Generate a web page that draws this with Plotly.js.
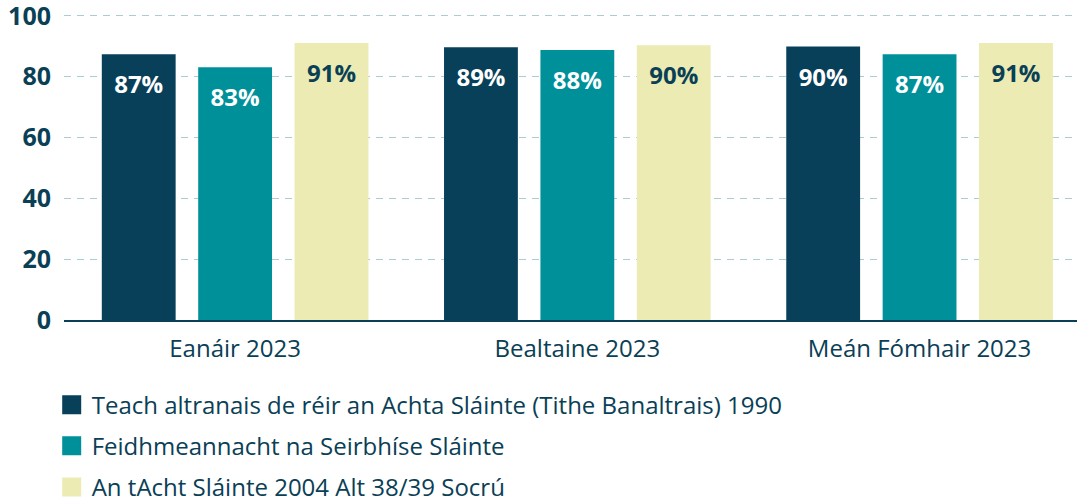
<!DOCTYPE html>
<html><head><meta charset="utf-8">
<script src="https://cdn.plot.ly/plotly-3.0.1.min.js"></script>
<style>body{margin:0;background:#fff}#chart{width:1077px;height:504px}</style>
</head><body><div id="chart"></div>
<script>
const categories = ["Eanáir 2023", "Bealtaine 2023", "Meán Fómhair 2023"];
const seriesNames = [
  "Teach altranais de réir an Achta Sláinte (Tithe Banaltrais) 1990",
  "Feidhmeannacht na Seirbhíse Sláinte",
  "An tAcht Sláinte 2004 Alt 38/39 Socrú"
];
const nursingHome = [87.4, 89.7, 89.9];
const hse = [83.1, 88.8, 87.4];
const section38 = [91.1, 90.3, 91.1];
const nursingHomeLabels = ["87%", "89%", "90%"];
const hseLabels = ["83%", "88%", "87%"];
const section38Labels = ["91%", "90%", "91%"];
const yTicks = [0, 20, 40, 60, 80, 100];

const colors = ["#08405a", "#00909a", "#ebebb3"];
const textColors = ["#ffffff", "#ffffff", "#0a4056"];
const vals = [nursingHome, hse, section38];
const labs = [nursingHomeLabels, hseLabels, section38Labels];
const font = "'Open Sans', 'Noto Sans', sans-serif";

const barTraces = vals.map((v, i) => ({
  type: "bar",
  x: categories,
  y: v,
  name: seriesNames[i],
  showlegend: false,
  marker: {color: colors[i]},
  hoverinfo: "none"
}));

// value labels, grouped like the bars, hung just below each bar top
const labelTraces = vals.map((v, i) => ({
  type: "scatter",
  mode: "markers+text",
  x: categories,
  y: v,
  alignmentgroup: "labels",
  offsetgroup: "s" + i,
  text: labs[i],
  textposition: "bottom center",
  textfont: {family: font, size: 24, color: textColors[i], weight: "bold"},
  marker: {size: 32, opacity: 0, color: colors[i]},
  showlegend: false,
  hoverinfo: "none",
  cliponaxis: false
}));

// legend entries (square swatches), no data
const legendTraces = seriesNames.map((n, i) => ({
  type: "scatter",
  mode: "markers",
  x: [null],
  y: [null],
  alignmentgroup: "legend",
  offsetgroup: "legend",
  name: n,
  legendgroup: "g" + i,
  marker: {symbol: "square", size: 16, color: colors[i], line: {color: colors[i], width: 3}},
  hoverinfo: "none"
}));

const layout = {
  width: 1077, height: 504,
  margin: {l: 64, r: 0, t: 14, b: 184, autoexpand: false},
  barmode: "group",
  bargap: 0.155,
  bargroupgap: 0.234,
  scattermode: "group",
  scattergap: 0.155,
  paper_bgcolor: "#fff", plot_bgcolor: "#fff",
  font: {family: font, color: "#0a4056"},
  xaxis: {
    range: [-0.5, 2.46],
    showgrid: false,
    showline: true, linecolor: "#0a4056", linewidth: 2,
    ticks: "",
    ticklabelstandoff: 6,
    tickfont: {size: 24, color: "#0a4056"},
    fixedrange: true
  },
  yaxis: {
    range: [0, 100.6],
    tickvals: yTicks,
    showgrid: true, gridcolor: "#a9cdd1", gridwidth: 1, griddash: "7px,6px",
    zeroline: false,
    showline: false,
    ticks: "",
    ticklabelstandoff: 12,
    ticklabeloverflow: "allow",
    tickfont: {size: 25, color: "#0a4056", weight: "bold"},
    fixedrange: true
  },
  showlegend: true,
  legend: {
    orientation: "v",
    xref: "container", yref: "container",
    x: 0.048, xanchor: "left",
    y: 0.241, yanchor: "top",
    font: {size: 24, color: "#0a4056"},
    traceorder: "grouped",
    tracegroupgap: 7,
    itemwidth: 30
  }
};

Plotly.newPlot("chart", barTraces.concat(labelTraces, legendTraces), layout, {displayModeBar: false, staticPlot: true});
</script>
</body></html>
